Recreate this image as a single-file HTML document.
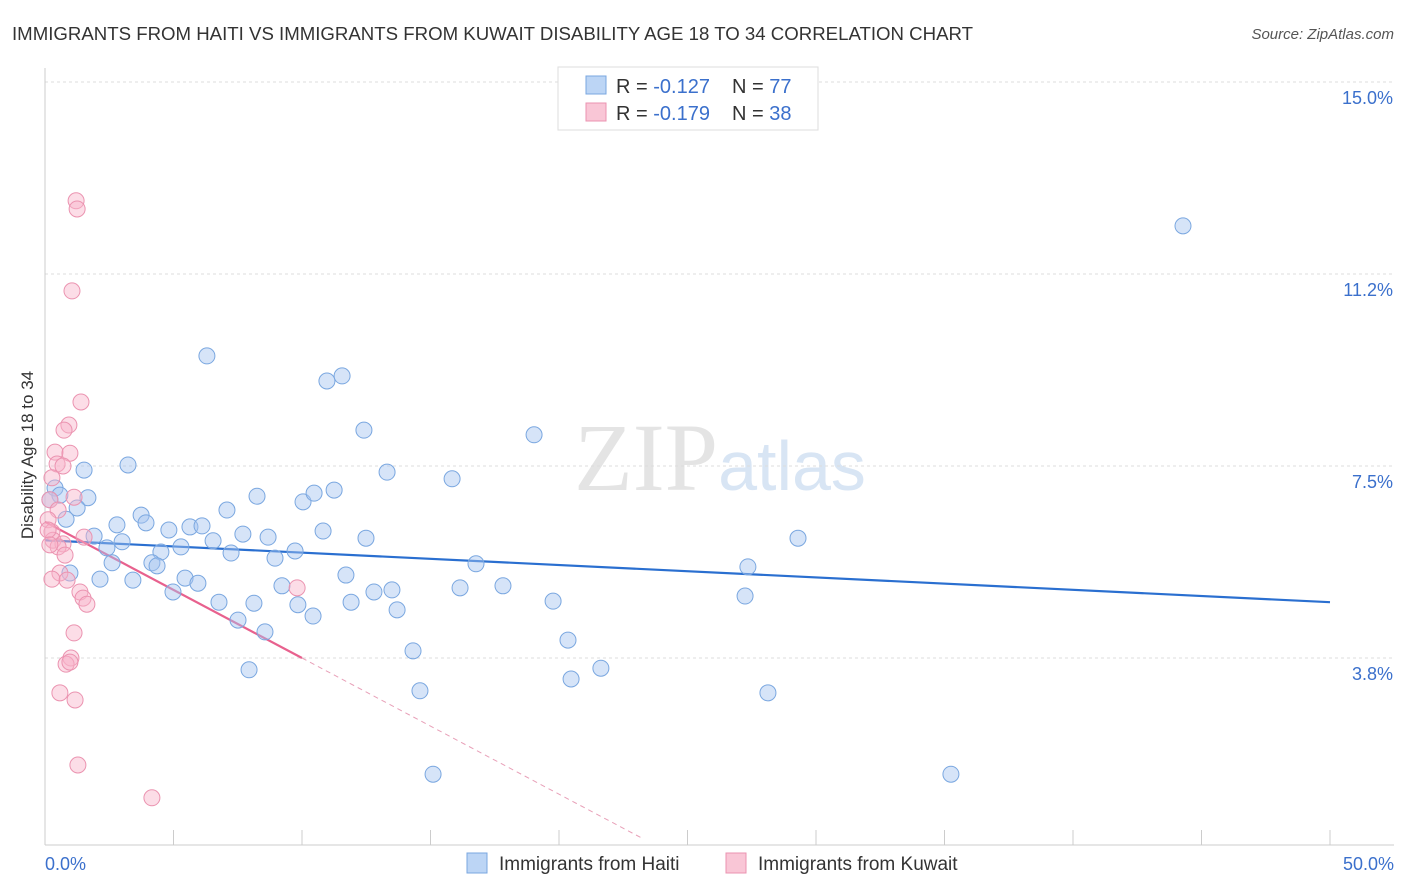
<!DOCTYPE html>
<html><head><meta charset="utf-8"><style>
body{margin:0;background:#fff;font-family:"Liberation Sans",sans-serif;}
</style></head><body>
<svg id="chart" width="1406" height="892" xmlns="http://www.w3.org/2000/svg" style="display:block">
<text x="12" y="40" font-size="18" fill="#333" textLength="961" lengthAdjust="spacingAndGlyphs">IMMIGRANTS FROM HAITI VS IMMIGRANTS FROM KUWAIT DISABILITY AGE 18 TO 34 CORRELATION CHART</text>
<text x="1394" y="39" font-size="15" fill="#555" text-anchor="end" font-style="italic">Source: ZipAtlas.com</text>
<text x="720" y="490" font-size="96" text-anchor="middle" fill="#e4e4e4" font-family="Liberation Serif,serif">ZIP<tspan fill="#d8e5f4" font-family="Liberation Sans,sans-serif" font-size="70">atlas</tspan></text>
<g id="grid"></g><g id="axes"></g><g id="lines"></g><g id="pts"></g>
<text transform="translate(33,455) rotate(-90)" font-size="17" fill="#333" text-anchor="middle">Disability Age 18 to 34</text>
<g>
<rect x="558" y="67" width="260" height="63" fill="#fff" stroke="#ddd"/>
<rect x="586" y="76" width="20" height="18" fill="#bcd5f5" stroke="#7aa7e0"/>
<rect x="586" y="103" width="20" height="18" fill="#f9c6d6" stroke="#eb93b0"/>
<text x="616" y="93" font-size="20" fill="#333">R = <tspan fill="#3b70cc">-0.127</tspan></text>
<text x="732" y="93" font-size="20" fill="#333">N = <tspan fill="#3b70cc">77</tspan></text>
<text x="616" y="120" font-size="20" fill="#333">R = <tspan fill="#3b70cc">-0.179</tspan></text>
<text x="732" y="120" font-size="20" fill="#333">N = <tspan fill="#3b70cc">38</tspan></text>
</g>
<g>
<rect x="467" y="853" width="20" height="20" fill="#bcd5f5" stroke="#7aa7e0"/>
<text x="499" y="870" font-size="19" fill="#333">Immigrants from Haiti</text>
<rect x="726" y="853" width="20" height="20" fill="#f9c6d6" stroke="#eb93b0"/>
<text x="758" y="870" font-size="19" fill="#333">Immigrants from Kuwait</text>
</g>
</svg>
<script>
const yTicks=[15.0,11.25,7.5,3.75];
const yTickLabels=["15.0%","11.2%","7.5%","3.8%"];
const xTickLabels=["0.0%","50.0%"];
const haitiX=[44.28,6.30,10.97,11.56,12.41,19.03,13.31,15.84,3.23,1.52,0.39,0.58,1.67,1.25,0.82,8.25,10.04,10.47,11.25,7.08,3.74,2.80,3.93,4.82,5.64,6.11,10.82,12.49,1.91,3.00,6.54,7.70,8.68,9.73,29.30,2.41,4.51,5.29,7.24,8.95,2.61,4.16,4.36,16.77,27.35,0.97,2.14,3.42,5.45,5.95,11.71,9.22,13.50,12.80,16.15,17.82,4.98,6.77,8.13,9.84,11.91,13.70,10.43,19.77,27.24,7.51,8.56,20.35,14.32,7.94,21.63,20.47,14.59,28.13,15.10,35.25,0.19];
const haitiY=[12.19,9.65,9.16,9.26,8.20,8.11,7.38,7.25,7.52,7.42,7.07,6.93,6.88,6.68,6.46,6.91,6.80,6.97,7.03,6.64,6.54,6.35,6.39,6.25,6.31,6.33,6.23,6.09,6.13,6.02,6.04,6.17,6.11,5.84,6.09,5.90,5.82,5.92,5.80,5.70,5.61,5.61,5.55,5.59,5.53,5.41,5.29,5.27,5.31,5.21,5.37,5.16,5.08,5.04,5.12,5.16,5.04,4.84,4.82,4.79,4.84,4.69,4.57,4.86,4.96,4.49,4.26,4.10,3.89,3.52,3.55,3.34,3.11,3.07,1.48,1.48,6.84];
const kuwaitX=[1.21,1.25,1.05,1.40,0.93,0.74,0.39,0.97,0.47,0.70,0.27,1.13,0.19,0.51,0.12,0.27,1.52,0.31,0.70,0.51,0.58,0.27,0.86,9.81,1.36,1.48,1.63,1.13,1.01,0.82,0.97,0.58,1.17,1.28,4.16,0.12,0.19,0.78];
const kuwaitY=[12.68,12.52,10.92,8.75,8.30,8.20,7.77,7.75,7.54,7.50,7.27,6.89,6.84,6.64,6.45,6.21,6.11,6.05,5.98,5.92,5.41,5.29,5.27,5.12,5.04,4.92,4.80,4.24,3.75,3.63,3.67,3.07,2.93,1.66,1.02,6.25,5.96,5.76];
const haitiTrend=[6.05,4.84];
const kuwaitTrend=[6.41,-0.266];
const X=v=>45+v*25.7, Y=v=>82+(15-v)*51.2;
const NS="http://www.w3.org/2000/svg";
function mk(p,t,a){const e=document.createElementNS(NS,t);for(const k in a)e.setAttribute(k,a[k]);document.getElementById(p).appendChild(e);return e;}
yTicks.forEach((t,i)=>{
 const g=mk('grid','line',{x1:45,x2:1394,y1:Y(t),y2:Y(t),stroke:'#ddd','stroke-dasharray':'3,3'});
 
 
 const l=mk('axes','text',{x:1393,y:Y(t)+22,'font-size':18,fill:'#3b70cc','text-anchor':'end'});l.textContent=yTickLabels[i];
 
 
});
const ax=mk('axes','line',{x1:45,x2:1394,y1:845,y2:845,stroke:'#ccc'});


const ay=mk('axes','line',{x1:45,x2:45,y1:68,y2:845,stroke:'#ccc'});


for(let i=0;i<=10;i++){const t=mk('axes','line',{x1:X(i*5),x2:X(i*5),y1:830,y2:845,stroke:'#ccc'});
 
 }
[[0,'start',45],[50,'end',1394]].forEach((d,i)=>{const l=mk('axes','text',{x:d[2],y:870,'font-size':18,fill:'#3b70cc','text-anchor':d[1]});l.textContent=xTickLabels[i];
 
 });
haitiX.forEach((x,i)=>{const c=mk('pts','circle',{cx:X(x),cy:Y(haitiY[i]),r:8,fill:'rgba(164,196,240,0.45)',stroke:'#7aa7e0','stroke-width':1});
 
 });
kuwaitX.forEach((x,i)=>{const c=mk('pts','circle',{cx:X(x),cy:Y(kuwaitY[i]),r:8,fill:'rgba(248,180,202,0.45)',stroke:'#eb93b0','stroke-width':1});
 
 });
const bl=mk('lines','line',{x1:X(0),y1:Y(haitiTrend[0]),x2:X(50),y2:Y(haitiTrend[1]),stroke:'#2a6fd0','stroke-width':2.2});


const kf=x=>kuwaitTrend[0]+kuwaitTrend[1]*x;
const pl=mk('lines','line',{x1:X(0),y1:Y(kf(0)),x2:X(10),y2:Y(kf(10)),stroke:'#e8618e','stroke-width':2.2});


const xe=23.3;
const pd=mk('lines','line',{x1:X(10),y1:Y(kf(10)),x2:X(xe),y2:Y(kf(xe)),stroke:'#e8a0b8','stroke-width':1,'stroke-dasharray':'5,4'});


</script>
</body></html>
